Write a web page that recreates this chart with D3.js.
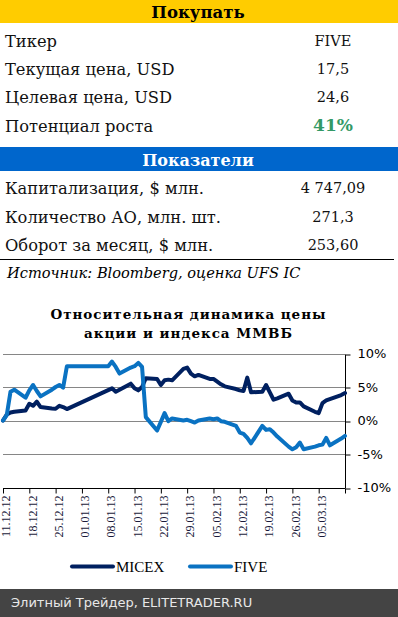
<!DOCTYPE html>
<html><head><meta charset="utf-8">
<script src="https://cdn.jsdelivr.net/npm/d3@7"></script>
<style>html,body{margin:0;padding:0;background:#fff;}svg{display:block;}</style>
</head><body>
<script>
// ---- data ----
const buyHeader = "Покупать";
const buyLabels = ["Тикер", "Текущая цена, USD", "Целевая цена, USD", "Потенциал роста"];
const buyValues = ["FIVE", "17,5", "24,6", "41%"];
const indHeader = "Показатели";
const indLabels = ["Капитализация, $ млн.", "Количество АО, млн. шт.", "Оборот за месяц, $ млн."];
const indValues = ["4 747,09", "271,3", "253,60"];
const sourceText = "Источник: Bloomberg, оценка UFS IC";
const titleLines = ["Относительная динамика цены", "акции и индекса ММВБ"];
const seriesNames = ["MICEX", "FIVE"];
const footerText = "Элитный Трейдер, ELITETRADER.RU";

const dates = ["2012-12-11","2012-12-12","2012-12-13","2012-12-14","2012-12-17","2012-12-18","2012-12-19","2012-12-20","2012-12-21",
"2012-12-24","2012-12-25","2012-12-26","2012-12-27","2012-12-28","2012-12-31","2013-01-02","2013-01-03","2013-01-04","2013-01-07","2013-01-08",
"2013-01-09","2013-01-10","2013-01-11","2013-01-14","2013-01-15","2013-01-16","2013-01-17","2013-01-18","2013-01-21","2013-01-22","2013-01-23",
"2013-01-24","2013-01-25","2013-01-28","2013-01-29","2013-01-30","2013-01-31","2013-02-01","2013-02-04","2013-02-05","2013-02-06","2013-02-07",
"2013-02-08","2013-02-11","2013-02-12","2013-02-13","2013-02-14","2013-02-15","2013-02-18","2013-02-19","2013-02-20","2013-02-21","2013-02-22",
"2013-02-25","2013-02-26","2013-02-27","2013-02-28","2013-03-01","2013-03-04","2013-03-05","2013-03-06","2013-03-07","2013-03-08","2013-03-11","2013-03-12"];
const micex = [0,0.9,1.2,1.3,1.5,2.5,2.2,2.8,2.0,
1.8,1.75,2.2,2.0,1.7,null,null,null,null,null,null,
4.8,4.3,4.6,5.5,4.8,4.5,5.0,6.3,6.2,5.3,6.0,
6.1,6.0,7.7,7.9,7.0,6.6,6.8,6.2,6.2,5.8,5.4,
5.1,4.7,4.5,4.4,6.4,4.2,4.3,5.3,4.2,3.1,3.3,
4.0,3.0,2.7,2.7,2.1,1.3,1.1,2.6,3.0,null,3.8,4.1];
const five = [0,0.8,4.3,4.6,3.4,4.5,5.3,4.4,3.6,
4.6,5.0,5.3,4.9,8.1,8.1,8.1,8.1,8.1,8.1,8.1,
8.8,8.0,7.0,7.9,8.1,8.6,8.0,0.5,-1.5,-0.2,1.1,
-0.1,0.3,0.0,0.1,-0.1,-0.3,0.0,0.3,0.2,0.3,-0.1,
-0.2,-0.8,-1.8,-2.0,-2.6,-3.4,-0.8,-1.4,-1.3,-1.8,-2.4,
-3.9,-4.3,-4.0,-3.3,-4.3,-3.9,-3.7,-3.6,-2.6,-3.7,-2.7,-2.3];
const tickDates = ["2012-12-11","2012-12-18","2012-12-25","2013-01-01","2013-01-08","2013-01-15","2013-01-22","2013-01-29","2013-02-05","2013-02-12","2013-02-19","2013-02-26","2013-03-05","2013-03-12"];
const tickLabels = ["11.12.12","18.12.12","25.12.12","01.01.13","08.01.13","15.01.13","22.01.13","29.01.13","05.02.13","12.02.13","19.02.13","26.02.13","05.03.13",""];
const yTicks = [-10,-5,0,5,10];

// ---- drawing ----
const W = 398, H = 617;
const svg = d3.select("body").append("svg").attr("width", W).attr("height", H);
const serif = "'DejaVu Serif', serif";

// Buy table
svg.append("rect").attr("x",0).attr("y",0).attr("width",W).attr("height",23).attr("fill","#FFCC00");
svg.append("text").attr("x",198).attr("y",17.5).attr("text-anchor","middle")
  .attr("font-family",serif).attr("font-weight","bold").attr("font-size",16.5).attr("fill","#000").text(buyHeader);
buyLabels.forEach((t,i)=>{
  const y = 46.5 + i*28.4;
  svg.append("text").attr("x",5).attr("y",y).attr("font-family",serif).attr("font-size",16.3).attr("fill","#111").text(t);
  const v = svg.append("text").attr("x",333).attr("y",y-1).attr("text-anchor","middle").attr("font-family",serif).text(buyValues[i]);
  if (i===3) v.attr("font-weight","bold").attr("font-size",17).attr("fill","#339966");
  else v.attr("font-size",14.5).attr("fill","#111");
});

// Indicators table
svg.append("rect").attr("x",0).attr("y",147).attr("width",W).attr("height",24).attr("fill","#0066CC");
svg.append("text").attr("x",198).attr("y",166).attr("text-anchor","middle")
  .attr("font-family",serif).attr("font-weight","bold").attr("font-size",16).attr("fill","#fff").text(indHeader);
indLabels.forEach((t,i)=>{
  const y = 194.3 + i*28.4;
  svg.append("text").attr("x",5).attr("y",y).attr("font-family",serif).attr("font-size",16.3).attr("fill","#111").text(t);
  svg.append("text").attr("x",333).attr("y",y-1).attr("text-anchor","middle").attr("font-family",serif)
    .attr("font-size",14.5).attr("fill","#111").text(indValues[i]);
});
svg.append("line").attr("x1",0).attr("x2",394).attr("y1",259.5).attr("y2",259.5).attr("stroke","#000").attr("stroke-width",1);
svg.append("text").attr("x",7).attr("y",277.5).attr("font-family",serif).attr("font-style","italic")
  .attr("font-size",14.6).attr("fill","#000").text(sourceText);

// Title
titleLines.forEach((t,i)=>{
  svg.append("text").attr("x",188).attr("y",319 + i*18.5).attr("text-anchor","middle")
    .attr("font-family",serif).attr("font-weight","bold").attr("font-size",13.5).attr("fill","#000")
    .attr("textLength", i===0 ? 275 : 208).attr("lengthAdjust","spacing").text(t);
});

// Scales
const parse = d3.utcParse("%Y-%m-%d");
const x = d3.scaleUtc().domain([parse(tickDates[0]), parse(tickDates[tickDates.length-1])]).range([3, 345]);
const y = d3.scaleLinear().domain([-10, 10]).range([487.5, 353.5]);
const snap = v => Math.round(v) + 0.5;

// gridlines
svg.append("g").selectAll("line").data(yTicks.filter(d=>d>-10)).join("line")
  .attr("x1",3).attr("x2",345).attr("y1",d=>snap(y(d))).attr("y2",d=>snap(y(d)))
  .attr("stroke","#868686").attr("stroke-width",1);

// right axis
const yAxis = d3.axisRight(y).tickValues(yTicks).tickSize(5).tickFormat(d=>d+"%");
const gy = svg.append("g").attr("transform","translate(345.5,0)").call(yAxis);
gy.select(".domain").attr("d", `M0,${snap(y(10))}V${snap(y(-10))}`).attr("stroke","#000");
gy.selectAll(".tick line").attr("stroke","#000").attr("transform",d=>`translate(0,${snap(y(d))-y(d)})`);
gy.selectAll(".tick text").attr("x",12).attr("text-anchor","start")
  .attr("font-family","'DejaVu Sans', sans-serif").attr("font-size",13).attr("fill","#000");

// bottom axis
const xAxis = d3.axisBottom(x).tickValues(tickDates.map(parse)).tickSize(5)
  .tickFormat((d,i)=>tickLabels[i]);
const gx = svg.append("g").attr("transform",`translate(0,${snap(y(-10))})`).call(xAxis);
gx.select(".domain").attr("d","M3,0H345").attr("stroke","#000");
gx.selectAll(".tick line").attr("stroke","#000");
gx.selectAll(".tick text")
  .attr("transform","translate(2.5,7) rotate(-90)").attr("x",0).attr("y",0).attr("dy","0.35em")
  .attr("text-anchor","end").attr("font-family","'Liberation Serif', serif").attr("font-size",12).attr("fill","#1a1a3a");

// lines
const colors = {MICEX:"#002060", FIVE:"#0a72c2"};
const lineGen = d3.line().x(d=>x(d.date)).y(d=>y(d.v));
[["MICEX", micex], ["FIVE", five]].forEach(([name, vals])=>{
  const pts = dates.map((d,i)=>({date:parse(d), v:vals[i]})).filter(p=>p.v!==null);
  svg.append("path").datum(pts).attr("d",lineGen).attr("fill","none")
    .attr("stroke",colors[name]).attr("stroke-width",4).attr("stroke-linejoin","round").attr("stroke-linecap","round");
});

// legend
const legX = [72, 190];
seriesNames.forEach((n,i)=>{
  svg.append("line").attr("x1",legX[i]).attr("x2",legX[i]+41).attr("y1",566.5).attr("y2",566.5)
    .attr("stroke",colors[n]).attr("stroke-width",4).attr("stroke-linecap","round");
  svg.append("text").attr("x",legX[i]+44).attr("y",572).attr("font-family","'Liberation Serif', serif")
    .attr("font-size",15).attr("fill","#000").text(n);
});

// footer
svg.append("rect").attr("x",0).attr("y",589).attr("width",W).attr("height",H-589).attr("fill","#444444");
svg.append("text").attr("x",11).attr("y",606.5).attr("font-family","'DejaVu Sans', sans-serif")
  .attr("font-size",13).attr("fill","#e8e8e8").text(footerText);
</script>
</body></html>
